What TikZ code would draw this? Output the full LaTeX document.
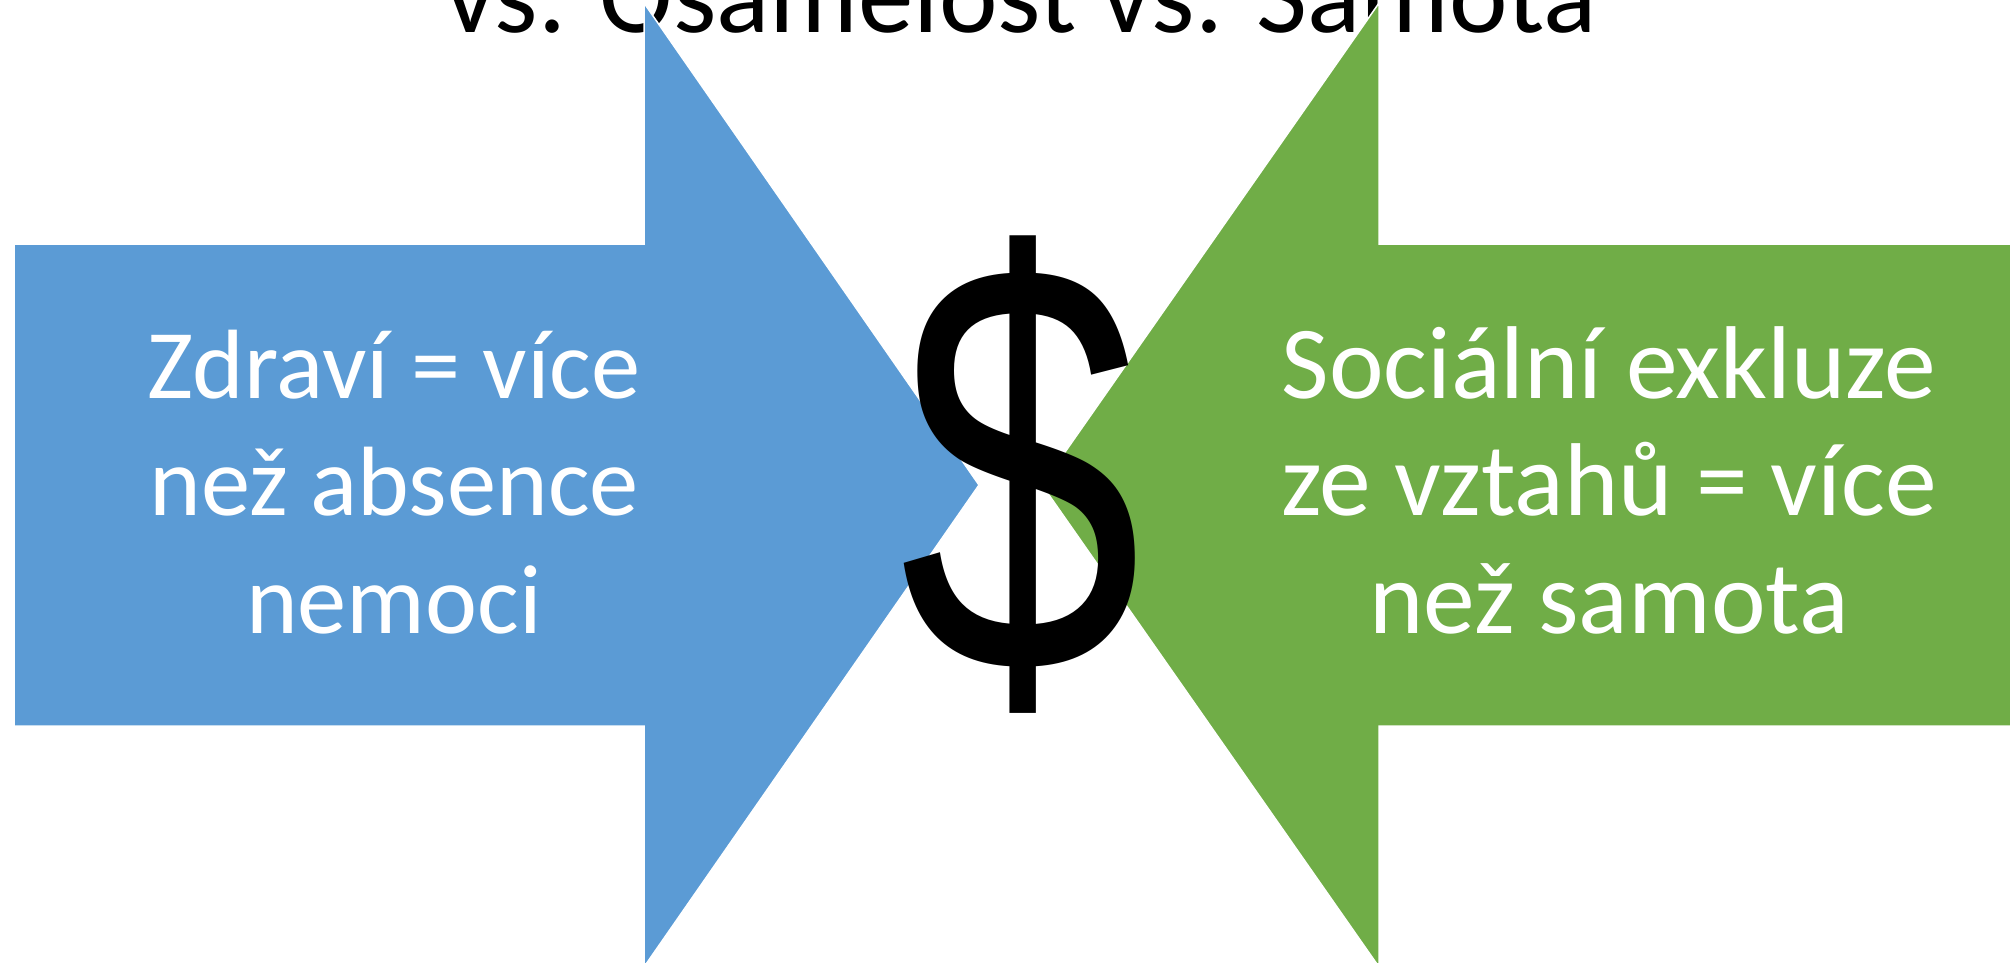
\documentclass[tikz,border=0pt]{standalone}
\usepackage{fontspec}
\setmainfont{Carlito}
\newfontfamily\dollarfont{Liberation Sans}
\definecolor{arrblue}{HTML}{5B9BD5}
\definecolor{arrgreen}{HTML}{70AD47}
\begin{document}
\begin{tikzpicture}[x=1pt,y=-1pt,
  titletext/.style={anchor=base west, inner sep=0pt, text=black, font=\fontsize{111}{133}\selectfont},
  lefttext/.style={anchor=base, inner sep=0pt, text=white, font=\fontsize{98.5}{117}\selectfont},
  righttext/.style={anchor=base, inner sep=0pt, text=white, font=\fontsize{103.5}{117}\selectfont},
  arrowshape/.style={draw=white, line width=1.5pt, line join=miter},
  dollar/.style={anchor=base, inner sep=0pt, text=black, xscale=0.74, font=\dollarfont\fontsize{590}{590}\selectfont}]
\useasboundingbox (0,0) rectangle (2010,962);
\clip (0,0) rectangle (2010,962);
\node[titletext] (title) at (445,32) {vs. Osamělost vs. Samota};
% blue arrow pointing right
\path[arrowshape, fill=arrblue] (14,244) -- (644,244) -- (644,3) -- (979,485) -- (644,967) -- (644,726) -- (14,726) -- cycle;
% green arrow pointing left
\path[arrowshape, fill=arrgreen] (2020,244) -- (1379,244) -- (1379,3) -- (1042,485) -- (1379,967) -- (1379,726) -- (2020,726) -- cycle;
\node[lefttext] (l1) at (394,398) {Zdraví = více};
\node[lefttext] (l2) at (394,515.5) {než absence};
\node[lefttext] (l3) at (394,633) {nemoci};
\node[righttext] (r1) at (1609,398) {Sociální exkluze};
\node[righttext] (r2) at (1609,515.5) {ze vztahů = více};
\node[righttext] (r3) at (1609,633) {než samota};
\node[dollar] (usd) at (1021,672) {\$};
\end{tikzpicture}
\end{document}
